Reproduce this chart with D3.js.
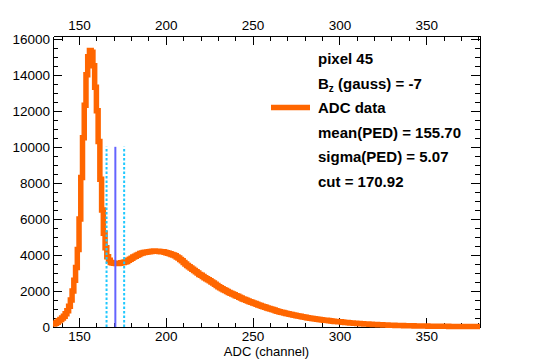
<!DOCTYPE html>
<html>
<head>
<meta charset="utf-8">
<script src="https://cdn.jsdelivr.net/npm/d3@7"></script>
<style>
  body { margin: 0; background: #fff; }
  text { font-family: "Liberation Sans", Arial, Helvetica, sans-serif; }
</style>
</head>
<body>
<script>
// histogram: one bin per ADC channel, first bin starts at 135
var binLow = 135;
var binWidth = 1;
var counts = [
  160, 210, 270, 340, 420, 500, 600, 730, 900, 1150,         // 135-144
  1500, 2000, 2600, 3300, 4300, 6000, 8300, 10500, 12300, 14000,
  15000, 15350, 15250, 14500, 13300, 12000, 10300, 8200, 6500, 5200,
  4400, 3900, 3700, 3580, 3550, 3540, 3520, 3530, 3540, 3560,
  3580, 3610, 3640, 3700, 3760, 3820, 3880, 3930, 3980, 4030, // 175-184
  4080, 4110, 4130, 4150, 4160, 4180, 4190, 4200, 4215, 4210,
  4200, 4190, 4180, 4170, 4150, 4120, 4090, 4060, 4030, 4000,
  3950, 3890, 3830, 3750, 3670, 3580, 3500, 3420, 3340, 3270,
  3200, 3130, 3060, 2990, 2920, 2870, 2800, 2740, 2680, 2620,
  2560, 2500, 2440, 2370, 2300, 2240, 2180, 2120, 2070, 2020, // 225-234
  1970, 1920, 1880, 1830, 1790, 1740, 1710, 1650, 1610, 1560,
  1520, 1480, 1440, 1400, 1370, 1330, 1300, 1260, 1220, 1190,
  1150, 1120, 1090, 1060, 1030, 1000, 970, 940, 905, 880,
  850, 820, 800, 775, 750, 730, 710, 690, 670, 650,
  630, 610, 590, 575, 555, 545, 520, 505, 490, 475,           // 275-284
  460, 445, 430, 420, 405, 395, 380, 370, 355, 345,
  330, 320, 310, 300, 292, 285, 275, 265, 255, 245,
  235, 225, 218, 210, 204, 198, 191, 185, 178, 172,
  166, 160, 155, 150, 145, 140, 135, 130, 125, 120,
  116, 112, 108, 104, 100, 96, 93, 90, 87, 84,                // 325-334
  81, 78, 75, 73, 70, 68, 66, 64, 62, 60,
  58, 56, 54, 52, 50, 49, 47, 46, 45, 43,
  42, 41, 40, 39, 38, 37, 36, 35, 34, 33,
  32, 31, 30, 30, 29, 28, 27, 27, 26, 26,
  25, 25, 24, 24, 23, 23                                      // 375-380
];

var xTicks = [150, 200, 250, 300, 350];
var yTicks = [0, 2000, 4000, 6000, 8000, 10000, 12000, 14000, 16000];

var mean = 155.70;
var sigma = 5.07;
var cut = 170.92;
var lineTop = 10000;

var legendLines = ["pixel 45", "Bz", "ADC data", "mean(PED) = 155.70", "sigma(PED) = 5.07", "cut = 170.92"];

var W = 534, H = 364;
var L = 53, R = 480, T = 36, B = 327;

var svg = d3.select("body").append("svg")
    .attr("width", W)
    .attr("height", H);

var x = d3.scaleLinear().domain([135, 381]).range([L, R]);
var y = d3.scaleLinear().domain([0, 16150]).range([B, T]);

var xMinor = d3.range(140, 381, 10);
var yMinor = d3.range(0, 16001, 500);

function styleAxis(g) {
    g.selectAll("path, line").attr("stroke", "#000").attr("shape-rendering", "crispEdges");
    g.selectAll("text").attr("font-size", "13.5px").attr("fill", "#000");
}

// bottom
svg.append("g").attr("transform", "translate(0," + B + ")")
    .call(d3.axisBottom(x).tickValues(xMinor).tickFormat("").tickSizeInner(-4.5).tickSizeOuter(0))
    .call(styleAxis);
svg.append("g").attr("transform", "translate(0," + B + ")")
    .call(d3.axisBottom(x).tickValues(xTicks).tickFormat(d3.format("d")).tickSizeInner(-9).tickSizeOuter(0).tickPadding(4))
    .call(styleAxis);
// top
svg.append("g").attr("transform", "translate(0," + T + ")")
    .call(d3.axisTop(x).tickValues(xMinor).tickFormat("").tickSizeInner(-4.5).tickSizeOuter(0))
    .call(styleAxis);
svg.append("g").attr("transform", "translate(0," + T + ")")
    .call(d3.axisTop(x).tickValues(xTicks).tickFormat(d3.format("d")).tickSizeInner(-9).tickSizeOuter(0).tickPadding(6))
    .call(styleAxis);
// left
svg.append("g").attr("transform", "translate(" + L + ",0)")
    .call(d3.axisLeft(y).tickValues(yMinor).tickFormat("").tickSizeInner(-5).tickSizeOuter(0))
    .call(styleAxis);
svg.append("g").attr("transform", "translate(" + L + ",0)")
    .call(d3.axisLeft(y).tickValues(yTicks).tickFormat(d3.format("d")).tickSizeInner(-9).tickSizeOuter(0).tickPadding(3))
    .call(styleAxis);
// right
svg.append("g").attr("transform", "translate(" + R + ",0)")
    .call(d3.axisRight(y).tickValues(yMinor).tickFormat("").tickSizeInner(-5).tickSizeOuter(0))
    .call(styleAxis);
svg.append("g").attr("transform", "translate(" + R + ",0)")
    .call(d3.axisRight(y).tickValues(yTicks).tickFormat("").tickSizeInner(-9).tickSizeOuter(0))
    .call(styleAxis);

svg.append("text")
    .attr("x", (L + R) / 2)
    .attr("y", 356)
    .attr("text-anchor", "middle")
    .attr("font-size", "13px")
    .text("ADC (channel)");

// histogram outline
svg.append("clipPath").attr("id", "clip")
    .append("rect").attr("x", L).attr("y", 0).attr("width", R - L).attr("height", H);

var pts = [];
counts.forEach(function(c, i) {
    var lo = binLow + i * binWidth;
    pts.push([lo, c]);
    pts.push([lo + binWidth, c]);
});

svg.append("path")
    .attr("clip-path", "url(#clip)")
    .attr("d", d3.line().x(function(d){ return x(d[0]); }).y(function(d){ return y(d[1]); })(pts))
    .attr("fill", "none")
    .attr("stroke", "#ff6600")
    .attr("stroke-width", 5.5)
    .attr("stroke-linejoin", "miter");

// cut +- sigma (dotted) and cut line
[cut - sigma, cut + sigma].forEach(function(v) {
    svg.append("line")
        .attr("x1", x(v)).attr("x2", x(v))
        .attr("y1", y(0)).attr("y2", y(lineTop))
        .attr("stroke", "#1ec8ff")
        .attr("stroke-width", 2)
        .attr("stroke-dasharray", "2.5,2");
});
svg.append("line")
    .attr("x1", x(cut)).attr("x2", x(cut))
    .attr("y1", y(0)).attr("y2", y(lineTop))
    .attr("stroke", "#6464ff")
    .attr("stroke-width", 2);

// legend
var lx = 318, ly = 64, dy = 24.5;
var leg = svg.append("g").attr("font-size", "15px").attr("font-weight", "bold");
legendLines.forEach(function(s, i) {
    var t = leg.append("text").attr("x", lx).attr("y", ly + i * dy);
    if (s == "Bz") {
        t.append("tspan").text("B");
        t.append("tspan").attr("font-size", "10px").attr("dy", 3).text("z");
        t.append("tspan").attr("dy", -3).text(" (gauss) = -7");
    } else {
        t.text(s);
    }
});
svg.append("line")
    .attr("x1", 271).attr("x2", 310)
    .attr("y1", ly + 2 * dy - 5.5).attr("y2", ly + 2 * dy - 5.5)
    .attr("stroke", "#ff6600")
    .attr("stroke-width", 5.5);
</script>
</body>
</html>
